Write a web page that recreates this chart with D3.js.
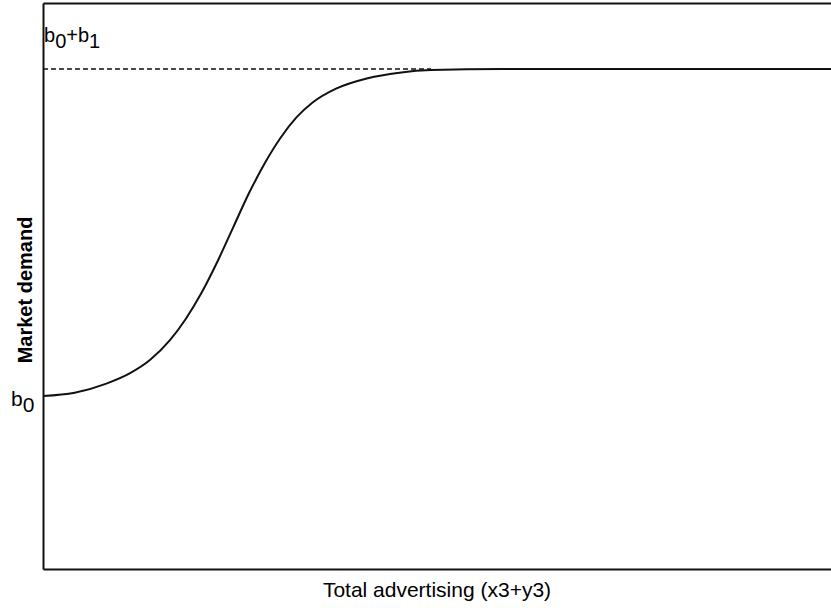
<!DOCTYPE html>
<html>
<head>
<meta charset="utf-8">
<script src="https://cdn.jsdelivr.net/npm/d3@7"></script>
<style>
  body { margin: 0; background: #fff; }
  svg text { font-family: "Liberation Sans", Arial, sans-serif; fill: #000; }
</style>
</head>
<body>
<div class="chart"></div>
<script>
// demand curve (x in % of advertising range, y in demand units)
const adv = [0, 4, 8, 11, 13.5, 16, 18, 20, 22, 24, 26, 28, 30, 32, 34, 37, 41, 45, 49, 58, 100];
const demand = [1.000, 1.010, 1.038, 1.070, 1.110, 1.170, 1.235, 1.315, 1.410, 1.515, 1.620, 1.712, 1.790, 1.852, 1.897, 1.940, 1.972, 1.989, 1.997, 2.0, 2.0];
const b0 = 1.0;
const b0b1 = 2.0;

const width = 831;
const height = 608;
const margin = {top: 3, right: -4, bottom: 39, left: 43};
const innerWidth = width - margin.left - margin.right;
const innerHeight = height - margin.top - margin.bottom;

const svg = d3.select('.chart')
   .append('svg')
   .attr('width', width)
   .attr('height', height);

const xScale = d3.scaleLinear().domain([0, 100]).range([0, innerWidth]);
const yScale = d3.scaleLinear().domain([0.471, 2.202]).range([innerHeight, 0]);

const g = svg.append('g')
   .attr('transform', `translate(${margin.left},${margin.top})`);

// frame: axes without ticks
g.append('g').call(d3.axisLeft(yScale).tickValues([]).tickSizeOuter(0))
   .select('.domain').attr('stroke', '#111').attr('stroke-width', 2);
g.append('g').attr('transform', `translate(0,${innerHeight})`)
   .call(d3.axisBottom(xScale).tickValues([]).tickSizeOuter(0))
   .select('.domain').attr('stroke', '#111').attr('stroke-width', 2);
g.append('g').call(d3.axisTop(xScale).tickValues([]).tickSizeOuter(0))
   .select('.domain').attr('stroke', '#111').attr('stroke-width', 2);

// upper asymptote, dashed
g.append('line')
   .attr('x1', xScale(0)).attr('x2', xScale(49))
   .attr('y1', yScale(b0b1)).attr('y2', yScale(b0b1))
   .attr('stroke', '#111').attr('stroke-width', 1.5)
   .attr('stroke-dasharray', '5,3');

const pts = adv.map((d, i) => [d, demand[i]]);
const line = d3.line()
   .x(d => xScale(d[0]))
   .y(d => yScale(d[1]))
   .curve(d3.curveMonotoneX);

g.append('path')
   .datum(pts)
   .attr('d', line)
   .attr('fill', 'none')
   .attr('stroke', '#111')
   .attr('stroke-width', 2);

// level labels
const lab1 = svg.append('text')
   .attr('x', margin.left + 1)
   .attr('y', margin.top + yScale(b0b1) - 27)
   .style('font-size', '20px');
lab1.append('tspan').text('b');
lab1.append('tspan').attr('dy', 6).text('0');
lab1.append('tspan').attr('dy', -6).text('+b');
lab1.append('tspan').attr('dy', 6).text('1');

const lab0 = svg.append('text')
   .attr('x', 11)
   .attr('y', margin.top + yScale(b0) + 10)
   .style('font-size', '21px');
lab0.append('tspan').text('b');
lab0.append('tspan').attr('dy', 6).text('0');

// axis titles
svg.append('text')
   .attr('x', 437)
   .attr('y', 597)
   .attr('text-anchor', 'middle')
   .style('font-size', '21px')
   .text('Total advertising (x3+y3)');

svg.append('text')
   .attr('transform', 'translate(32,290) rotate(-90)')
   .attr('text-anchor', 'middle')
   .style('font-size', '20px')
   .style('font-weight', 'bold')
   .text('Market demand');
</script>
</body>
</html>
